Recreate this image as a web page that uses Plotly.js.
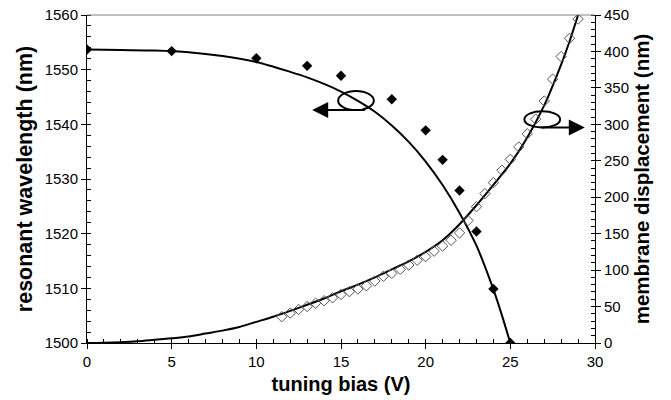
<!DOCTYPE html>
<html>
<head>
<meta charset="utf-8">
<script src="https://cdn.plot.ly/plotly-3.0.1.min.js"></script>
<style>html,body{margin:0;padding:0;background:#fff;}#chart{width:671px;height:400px;}</style>
</head>
<body>
<div id="chart"></div>
<script>
// Resonant wavelength (measured, filled diamonds) – left axis
const biasFilled = [0, 5, 10, 13, 15, 18, 20, 21, 22, 23, 24, 25];
const wlFilled = [1553.7, 1553.4, 1552.1, 1550.7, 1548.9, 1544.6, 1538.9, 1533.5, 1527.9, 1520.4, 1509.9, 1500.0];

// Resonant wavelength fit curve – left axis
const fitBiasL = [0, 2, 4, 6, 8, 10, 12, 13, 14, 15, 16, 17, 18, 19, 20, 21, 22, 23, 24, 24.5, 25];
const fitWlL = [1553.7, 1553.6, 1553.5, 1553.2, 1552.5, 1551.4, 1549.6, 1548.6, 1547.4, 1546.0, 1544.3, 1542.3, 1539.8, 1536.8, 1533.2, 1528.9, 1523.8, 1517.8, 1509.8, 1505.1, 1500.0];

// Membrane displacement (measured, open diamonds) – right axis
const biasOpen = [11.5, 12, 12.5, 13, 13.5, 14, 14.5, 15, 15.5, 16, 16.5, 17, 17.5, 18, 18.5, 19, 19.5, 20, 20.5, 21, 21.5, 22, 22.5, 23, 23.5, 24, 24.5, 25, 25.5, 26, 26.5, 27, 27.5, 28, 28.5, 29];
const dispOpen = [36, 41, 46, 50, 54.5, 58, 62, 66.5, 70.5, 74, 78.5, 85, 91.5, 95.5, 101, 107, 113.5, 118.5, 126, 133, 141, 151, 168, 187, 205, 220, 237, 252, 269, 287, 307, 332, 362, 393, 418, 444.5];

// Membrane displacement fit curve – right axis
const fitBiasR = [0, 1, 2, 3, 4, 5, 6, 7, 8, 9, 10, 11, 12, 13, 14, 15, 16, 17, 18, 19, 20, 21, 22, 23, 24, 25, 26, 27, 28, 28.5, 29];
const fitDispR = [0, 0.4, 1.2, 2.5, 4.5, 6.5, 9, 13, 17, 22, 29, 36, 44, 52.5, 61, 71, 80, 90, 101, 112, 125, 141, 163, 189, 217, 246, 282, 326, 382, 414, 450];

// Axis titles
const xTitle = 'tuning bias (V)';
const yTitle = 'resonant wavelength (nm)';
const y2Title = 'membrane displacement (nm)';

const FONT = 'Liberation Sans, Arial, sans-serif';

const traces = [
  {x: fitBiasL, y: fitWlL, type: 'scatter', mode: 'lines', yaxis: 'y',
   line: {color: '#000', width: 2, shape: 'spline', smoothing: 0.8}, hoverinfo: 'skip'},
  {x: biasFilled, y: wlFilled, type: 'scatter', mode: 'markers', yaxis: 'y',
   marker: {symbol: 'diamond', size: 8, color: '#000'}},
  {x: fitBiasR, y: fitDispR, type: 'scatter', mode: 'lines', yaxis: 'y2',
   line: {color: '#000', width: 2, shape: 'spline', smoothing: 0.8}, hoverinfo: 'skip'},
  {x: biasOpen, y: dispOpen, type: 'scatter', mode: 'markers', yaxis: 'y2',
   marker: {symbol: 'diamond-open', size: 8, color: '#555', line: {width: 1, color: '#555'}}}
];

const axisCommon = {
  showline: true, linecolor: '#000', linewidth: 1, showgrid: false, zeroline: false,
  ticks: 'outside', ticklen: 5, tickcolor: '#000', tickwidth: 1,
  tickfont: {family: FONT, size: 15, color: '#000'}
};

const layout = {
  width: 671, height: 400,
  margin: {l: 87, r: 76, t: 15, b: 57},
  paper_bgcolor: '#fff', plot_bgcolor: '#fff',
  showlegend: false,
  font: {family: FONT, color: '#000'},
  xaxis: Object.assign({}, axisCommon, {
    range: [0, 30], tick0: 0, dtick: 5,
    minor: {dtick: 1, ticks: 'inside', ticklen: 4, tickcolor: '#000', showgrid: false},
    title: {text: '<b>' + xTitle + '</b>', font: {family: FONT, size: 20, color: '#000'}, standoff: 7}
  }),
  yaxis: Object.assign({}, axisCommon, {
    range: [1500, 1560], tick0: 1500, dtick: 10,
    minor: {dtick: 2, ticks: 'inside', ticklen: 4, tickcolor: '#000', showgrid: false},
    title: {text: '<b>' + yTitle + '</b>', font: {family: FONT, size: 21.5, color: '#000'}, standoff: 6}
  }),
  yaxis2: Object.assign({}, axisCommon, {
    overlaying: 'y', side: 'right',
    range: [0, 450], tick0: 0, dtick: 50,
    minor: {dtick: 10, ticks: 'inside', ticklen: 4, tickcolor: '#000', showgrid: false},
    title: {text: '<b>' + y2Title + '</b>', font: {family: FONT, size: 20.5, color: '#000'}, standoff: 6}
  }),
  shapes: [
    {type: 'line', xref: 'paper', yref: 'paper', x0: 0, x1: 1, y0: 1, y1: 1,
     line: {color: '#808080', width: 1}},
    {type: 'circle', xref: 'x', yref: 'y', x0: 14.83, x1: 16.94, y0: 1542.6, y1: 1546.1,
     line: {color: '#000', width: 2}},
    {type: 'circle', xref: 'x', yref: 'y', x0: 25.83, x1: 27.94, y0: 1539.4, y1: 1542.4,
     line: {color: '#000', width: 2}}
  ],
  annotations: [
    {xref: 'x', yref: 'y', axref: 'x', ayref: 'y', x: 13.3, y: 1542.6, ax: 16.5, ay: 1542.6,
     text: '', showarrow: true, arrowhead: 2, arrowsize: 1.6, arrowwidth: 2, arrowcolor: '#000'},
    {xref: 'x', yref: 'y', axref: 'x', ayref: 'y', x: 29.4, y: 1539.4, ax: 26.75, ay: 1539.4,
     text: '', showarrow: true, arrowhead: 2, arrowsize: 1.6, arrowwidth: 2, arrowcolor: '#000'}
  ]
};

Plotly.newPlot('chart', traces, layout, {displayModeBar: false, staticPlot: true});
</script>
</body>
</html>
